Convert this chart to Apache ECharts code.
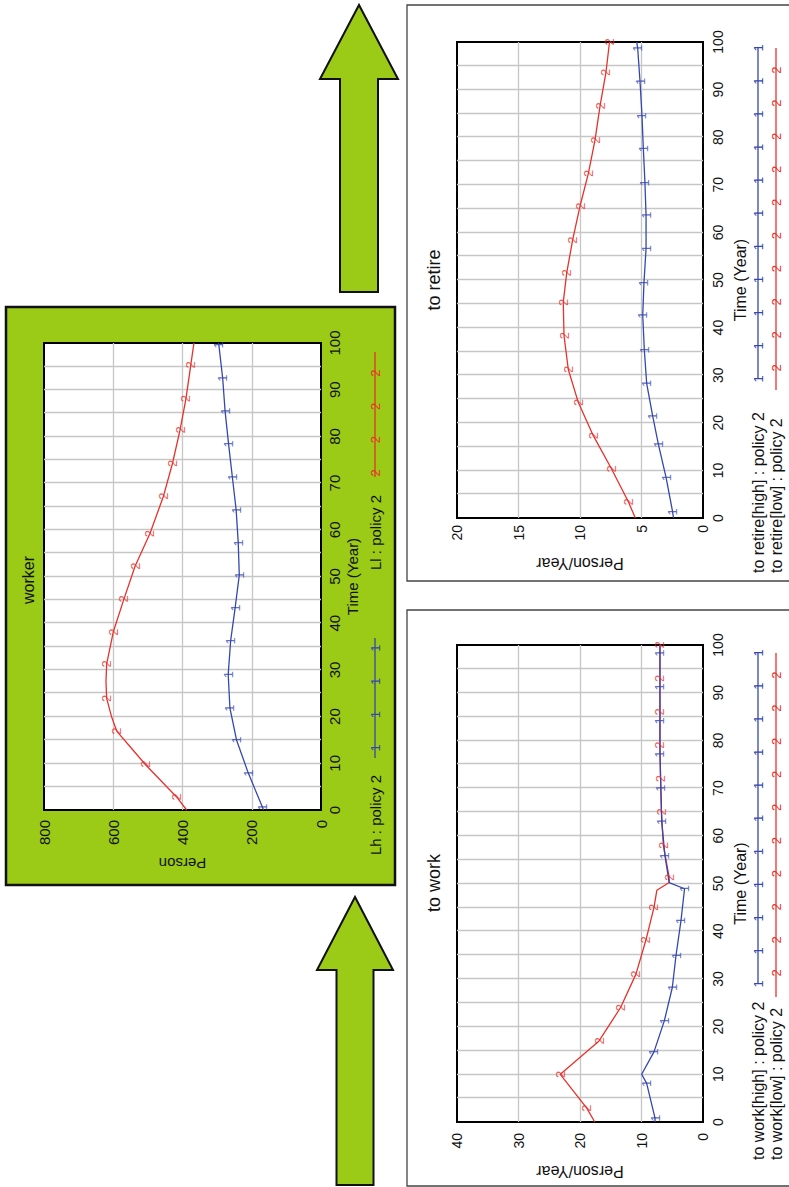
<!DOCTYPE html>
<html><head><meta charset="utf-8">
<script src="https://cdn.jsdelivr.net/npm/echarts@6/dist/echarts.min.js"></script>
<style>
html,body{margin:0;padding:0;width:789px;height:1187px;overflow:hidden;background:#fff}
#chart{position:absolute;left:0;top:0;width:1187px;height:789px;transform-origin:0 0;transform:translate(0,1187px) rotate(-90deg)}
</style></head><body><div id="chart"></div>
<script>
// ---------- data (time in years) ----------
const titles = ['worker', 'to retire', 'to work'];
const workerNames = ['Lh : policy 2', 'Ll : policy 2'];
const retireNames = ['to retire[high] : policy 2', 'to retire[low] : policy 2'];
const workNames = ['to work[high] : policy 2', 'to work[low] : policy 2'];

// worker Lh (blue, mark "1")
const lhT = [0, 0.6, 7.9, 15, 21.8, 29, 36.2, 43.3, 50.3, 57.2, 64.2, 71.3, 78.4, 85.4, 92.5, 99.6, 100];
const lhV = [166, 169, 210, 244, 263, 268, 261, 248, 236, 239, 245, 256, 267, 277, 284, 295, 296];
const lhM = [0, 1, 1, 1, 1, 1, 1, 1, 1, 1, 1, 1, 1, 1, 1, 1, 0];
// worker Ll (red, mark "2")
const llT = [0, 2.8, 9.8, 13, 16.9, 20, 23.9, 27.5, 31.3, 38.1, 45.2, 52.2, 59.2, 67.2, 74.2, 81.4, 88.1, 95.3, 100];
const llV = [388, 417, 508, 545, 590, 605, 619, 621, 619, 600, 569, 537, 494, 455, 429, 407, 390, 376, 367];
const llM = [0, 1, 1, 0, 1, 0, 1, 0, 1, 1, 1, 1, 1, 1, 1, 1, 1, 1, 0];

// to retire[high] (blue)
const rhT = [0, 1.3, 8.5, 15.5, 21.4, 28.3, 35.3, 42.6, 49.4, 56.6, 63.6, 70.4, 77.6, 84.5, 91.7, 98.7, 100];
const rhV = [2.4, 2.47, 3.0, 3.63, 4.09, 4.58, 4.77, 4.9, 4.8, 4.63, 4.63, 4.72, 4.85, 4.96, 5.12, 5.31, 5.39];
const rhM = [0, 1, 1, 1, 1, 1, 1, 1, 1, 1, 1, 1, 1, 1, 1, 1, 0];
// to retire[low] (red)
const rlT = [0, 3.4, 10.3, 17.3, 24.3, 31.2, 38.3, 45.3, 51.5, 58.4, 65.5, 72.4, 79.4, 86.6, 93.6, 100];
const rlV = [5.5, 6.07, 7.43, 8.92, 10.14, 10.95, 11.3, 11.36, 11.08, 10.6, 10.0, 9.32, 8.78, 8.37, 7.89, 7.6];
const rlM = [0, 1, 1, 1, 1, 1, 1, 1, 1, 1, 1, 1, 1, 1, 1, 1];

// to work[high] (blue)
const whT = [0, 0.8, 8.1, 10, 14.7, 21.2, 28.2, 34.9, 42.2, 48.9, 50.2, 55.8, 63, 70, 77.1, 84.1, 91.2, 98.3, 100];
const whV = [7.8, 7.8, 9.16, 9.97, 7.97, 6.29, 4.99, 4.39, 3.58, 3.0, 5.5, 6.18, 6.72, 6.85, 7.0, 7.0, 7.0, 7.0, 7.0];
const whM = [0, 1, 1, 0, 1, 1, 1, 1, 1, 1, 0, 1, 1, 1, 1, 1, 1, 1, 0];
// to work[low] (red)
const wlT = [0, 2.9, 10, 17, 24, 31, 38.2, 45, 48.6, 50.2, 51.3, 58, 65, 72, 79, 86, 93, 100];
const wlV = [17.6, 18.9, 23.2, 16.9, 13.4, 10.9, 9.27, 7.97, 7.5, 5.5, 5.5, 6.45, 6.75, 6.9, 7.0, 7.0, 7.0, 7.0];
const wlM = [0, 1, 1, 1, 1, 1, 1, 1, 0, 0, 1, 1, 1, 1, 1, 1, 1, 1];

const valueMax = [800, 20, 40];
const valueStep = [200, 5, 10];

// ---------- styling ----------
const FONT = "'Liberation Sans', Arial, Helvetica, sans-serif";
const RED = '#e8312b', BLUE = '#3447ae', GREEN = '#9bcb17', GRID = '#c6c6c6', INK = '#111';
const MARK_FS = 13;

const pts = (T, V) => T.map((t, i) => [t, V[i]]);
const marks = (T, V, M) => T.map((t, i) => [t, V[i]]).filter((p, i) => M[i]);

const grids = [
  { left: 377, top: 44, width: 467, height: 277 },
  { left: 669, top: 457, width: 476, height: 246 },
  { left: 65, top: 457, width: 477, height: 246 }
].map(g => Object.assign(g, { show: true, backgroundColor: '#fff', borderColor: '#000', borderWidth: 2, containLabel: false }));

const tickFs = [15, 14, 14];
const nameFs = [15, 16, 16];
const xMargin = [6, 8, 8];
const xNameGap = [24, 29, 29];
const yMargin = [10, 7, 11];
const yNameGap = [46, 37, 41];
const yNames = ['Person', 'Person/Year', 'Person/Year'];

const xAxes = [0, 1, 2].map(i => ({
  type: 'value', gridIndex: i, min: 0, max: 100, interval: 10,
  axisLine: { show: false }, axisTick: { show: false },
  axisLabel: { fontSize: tickFs[i], color: INK, margin: xMargin[i], fontFamily: FONT },
  splitLine: { show: true, showMinLine: false, showMaxLine: false, lineStyle: { color: GRID, width: 1.3 } },
  minorTick: { show: false, splitNumber: 2 },
  minorSplitLine: { show: true, lineStyle: { color: GRID, width: 1.3 } },
  name: 'Time (Year)', nameLocation: 'middle', nameGap: xNameGap[i],
  nameTextStyle: { fontSize: nameFs[i], color: INK, fontFamily: FONT }
}));
const yAxes = [0, 1, 2].map(i => ({
  type: 'value', gridIndex: i, min: 0, max: valueMax[i], interval: valueStep[i],
  axisLine: { show: false }, axisTick: { show: false },
  axisLabel: { fontSize: tickFs[i], color: INK, margin: yMargin[i], fontFamily: FONT },
  splitLine: { show: true, showMinLine: false, showMaxLine: false, lineStyle: { color: GRID, width: 1.3 } },
  name: yNames[i], nameLocation: 'middle', nameGap: yNameGap[i],
  nameTextStyle: { fontSize: nameFs[i], color: INK, fontFamily: FONT }
}));

function lineSeries(g, T, V, color, z) {
  return { type: 'line', xAxisIndex: g, yAxisIndex: g, data: pts(T, V), showSymbol: false, symbol: 'none',
    lineStyle: { color, width: 1.3 }, z, silent: true, animation: false };
}
function markSeries(g, T, V, M, color, glyph, z) {
  return { type: 'scatter', xAxisIndex: g, yAxisIndex: g, data: marks(T, V, M), symbol: 'circle', symbolSize: 1,
    itemStyle: { color: 'rgba(0,0,0,0)' }, z, silent: true, animation: false,
    label: { show: true, position: 'inside', formatter: glyph, color, fontSize: MARK_FS, fontFamily: FONT } };
}

const series = [
  lineSeries(0, llT, llV, RED, 3), markSeries(0, llT, llV, llM, RED, '2', 5),
  lineSeries(0, lhT, lhV, BLUE, 3), markSeries(0, lhT, lhV, lhM, BLUE, '1', 5),
  lineSeries(1, rlT, rlV, RED, 3), markSeries(1, rlT, rlV, rlM, RED, '2', 5),
  lineSeries(1, rhT, rhV, BLUE, 3), markSeries(1, rhT, rhV, rhM, BLUE, '1', 5),
  lineSeries(2, wlT, wlV, RED, 3), markSeries(2, wlT, wlV, wlM, RED, '2', 5),
  lineSeries(2, whT, whV, BLUE, 4), markSeries(2, whT, whV, whM, BLUE, '1', 5)
];

// ---------- decorations / legends ----------
function txt(text, x, y, fs, align, color) {
  return { type: 'text', x, y, z: 10, silent: true,
    style: { text, fontSize: fs, fontFamily: FONT, fill: color || INK, align: align || 'left', verticalAlign: 'middle' } };
}
function legendRow(label, tx, y, fs, color, glyph, l1, l2, m0, step, n) {
  const els = [txt(label, tx, y, fs, 'left'),
    { type: 'line', z: 10, silent: true, shape: { x1: l1, y1: y, x2: l2, y2: y }, style: { stroke: color, lineWidth: 1.3 } }];
  for (let k = 0; k < n; k++) els.push(txt(glyph, m0 + k * step, y, MARK_FS, 'center', color));
  return els;
}
function arrow(x0, xHead, xTip, yc, shaftHalf, headHalf) {
  return { type: 'polygon', z: 1, silent: true,
    shape: { points: [[x0, yc - shaftHalf], [xHead, yc - shaftHalf], [xHead, yc - headHalf], [xTip, yc],
      [xHead, yc + headHalf], [xHead, yc + shaftHalf], [x0, yc + shaftHalf]] },
    style: { fill: GREEN, stroke: '#111', lineWidth: 2 } };
}

const graphic = [
  { type: 'rect', z: -10, silent: true, shape: { x: 302, y: 6, width: 578, height: 389 }, style: { fill: GREEN, stroke: '#111', lineWidth: 2.5 } },
  { type: 'rect', z: -10, silent: true, shape: { x: 606, y: 407, width: 576, height: 420 }, style: { fill: 'none', stroke: '#444', lineWidth: 1.3 } },
  { type: 'rect', z: -10, silent: true, shape: { x: 1, y: 407, width: 576, height: 420 }, style: { fill: 'none', stroke: '#444', lineWidth: 1.3 } },
  arrow(2, 217, 290, 355, 18.5, 38),
  arrow(895, 1108, 1182, 359, 19, 39),
  txt(titles[0], 607, 28, 16, 'center'),
  txt(titles[1], 907, 434, 18, 'center'),
  txt(titles[2], 304, 434, 18, 'center'),
  ...legendRow(workerNames[0], 332, 375, 15, BLUE, '1', 429, 549, 439, 33.3, 4),
  ...legendRow(workerNames[1], 617, 375, 15, RED, '2', 710, 835, 714, 33.3, 4),
  ...legendRow(retireNames[0], 614, 758, 16, BLUE, '1', 808, 1139, 808, 33.1, 11),
  ...legendRow(retireNames[1], 614, 776, 16, RED, '2', 797, 1139, 819, 33.1, 10),
  ...legendRow(workNames[0], 27, 758, 16, BLUE, '1', 203, 534, 203, 33.1, 11),
  ...legendRow(workNames[1], 27, 776, 16, RED, '2', 190, 534, 214, 33.1, 10)
];

const chart = echarts.init(document.getElementById('chart'), null, { renderer: 'svg', width: 1187, height: 789 });
chart.setOption({
  animation: false,
  backgroundColor: '#fff',
  textStyle: { fontFamily: FONT },
  grid: grids, xAxis: xAxes, yAxis: yAxes, series, graphic
});
</script></body></html>
